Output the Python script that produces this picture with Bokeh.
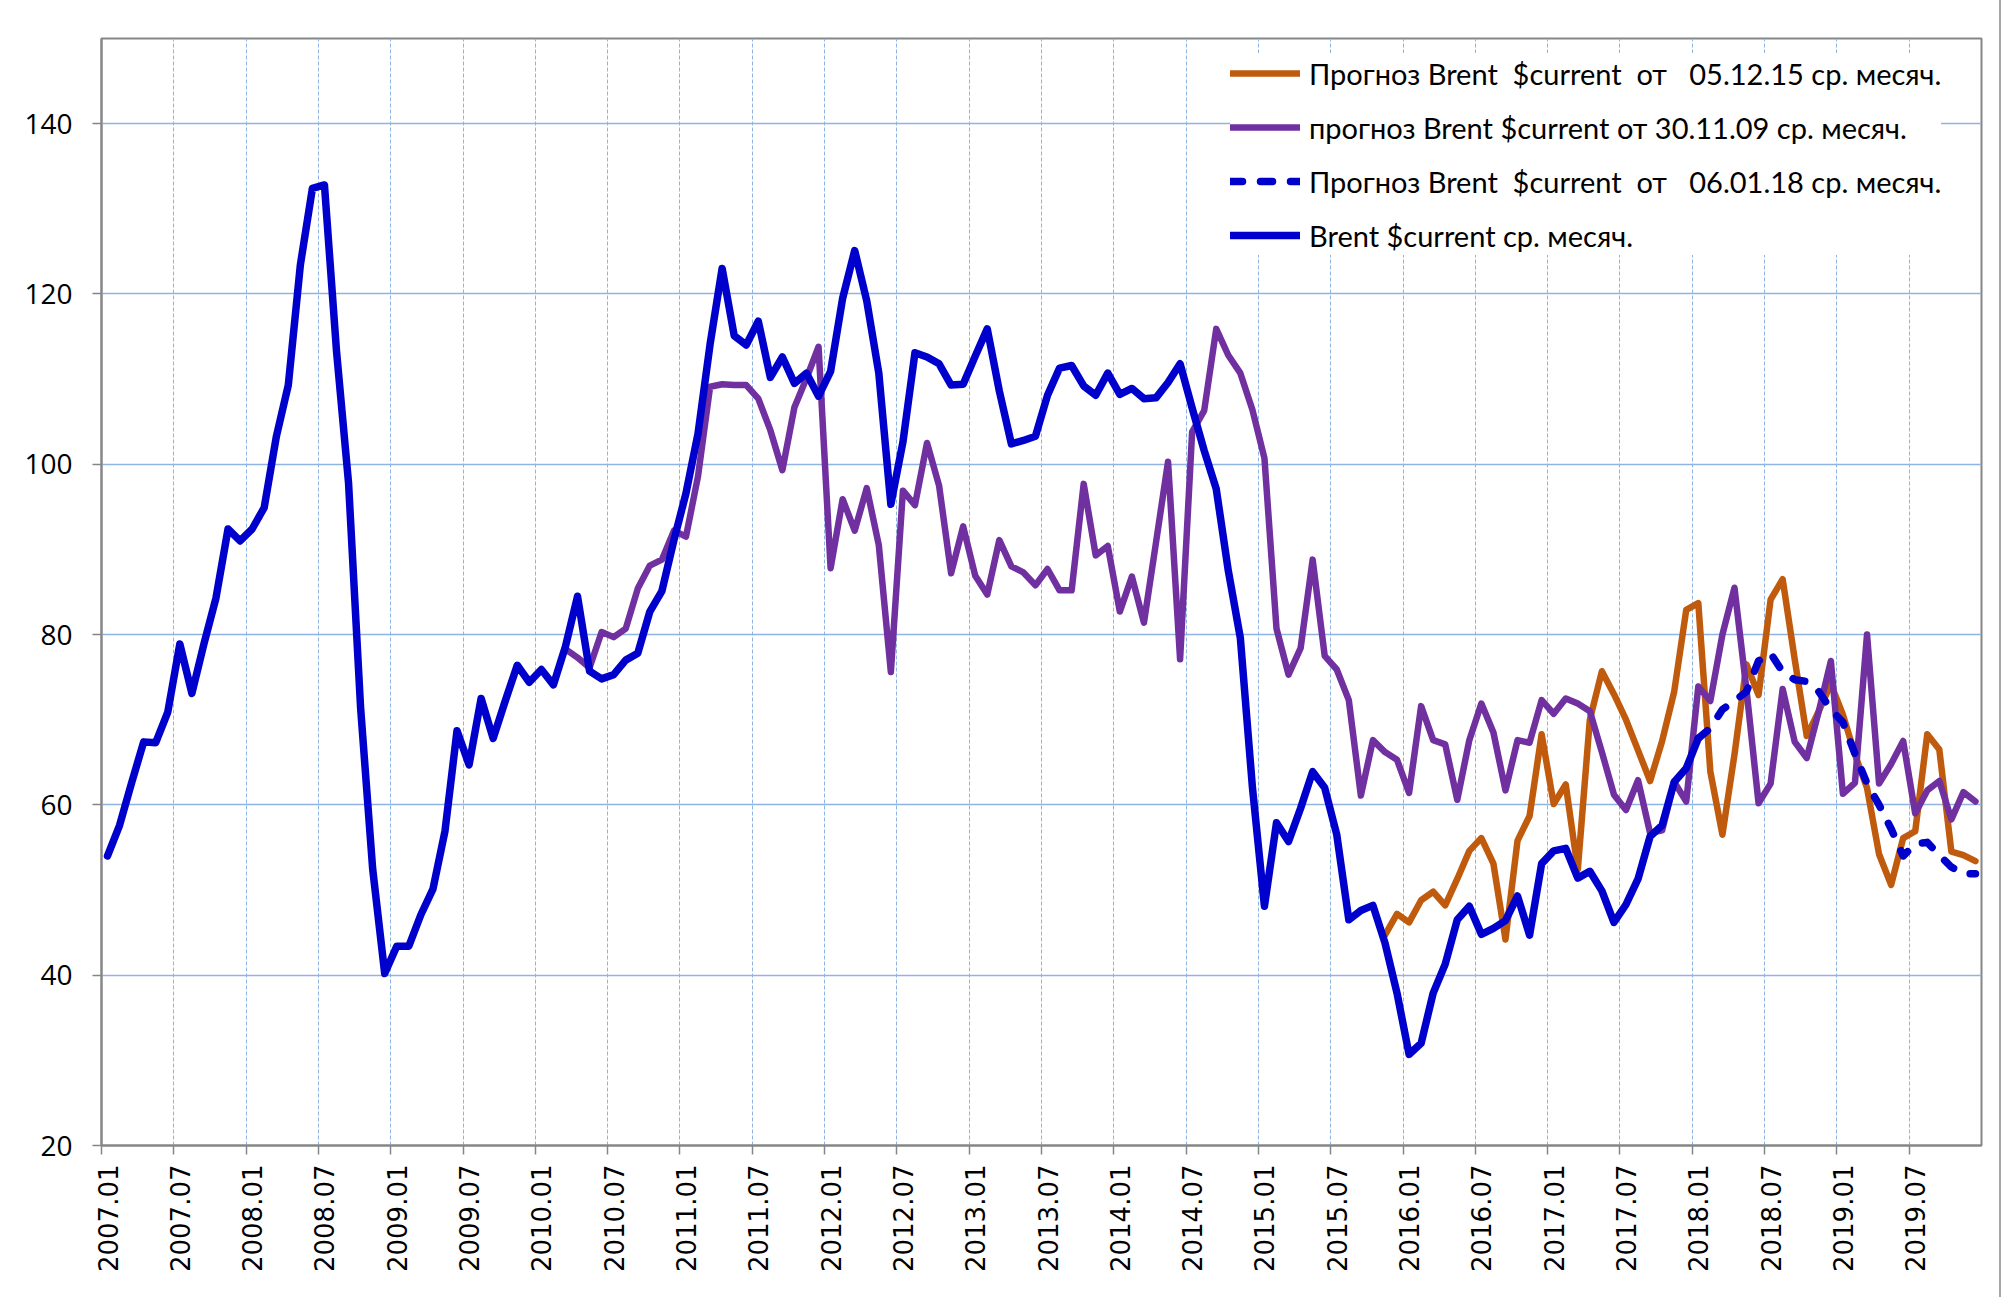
import math
from bokeh.plotting import figure
from bokeh.models import (Range1d, FixedTicker, LinearAxis, Legend, LegendItem,
                          ColumnDataSource, Grid)
from bokeh.embed import file_html
from bokeh.resources import INLINE

# ---------------- data ----------------
years = list(range(2007, 2020))
months = [f"{y}.{m:02d}" for y in years for m in range(1, 13)]   # categories 2007.01 .. 2019.12

tick_labels = ["2007.01", "2007.07", "2008.01", "2008.07", "2009.01", "2009.07",
               "2010.01", "2010.07", "2011.01", "2011.07", "2012.01", "2012.07",
               "2013.01", "2013.07", "2014.01", "2014.07", "2015.01", "2015.07",
               "2016.01", "2016.07", "2017.01", "2017.07", "2018.01", "2018.07",
               "2019.01", "2019.07"]
y_ticks = [20, 40, 60, 80, 100, 120, 140]

# Brent $current monthly average, from 2007.01
brent_start = "2007.01"
brent = [54.0, 57.6, 62.6, 67.4, 67.3, 70.9, 78.9, 73.1, 78.9, 84.3, 92.4, 91.0,
         92.4, 94.9, 103.2, 109.3, 123.4, 132.4, 132.8, 113.3, 97.8, 71.4, 52.5, 40.2,
         43.4, 43.4, 47.1, 50.1, 56.9, 68.7, 64.7, 72.5, 67.8, 72.2, 76.4, 74.4,
         75.9, 74.1, 78.6, 84.5, 75.7, 74.8, 75.3, 77.0, 77.8, 82.7, 85.1, 91.1,
         96.6, 103.6, 114.1, 123.0, 115.1, 114.0, 116.8, 110.2, 112.6, 109.5, 110.7, 108.0,
         110.9, 119.5, 125.1, 119.2, 110.7, 95.3, 102.6, 113.1, 112.6, 111.8, 109.3, 109.4,
         112.7, 115.9, 108.6, 102.4, 102.8, 103.3, 108.1, 111.3, 111.6, 109.2, 108.1, 110.7,
         108.2, 108.9, 107.7, 107.8, 109.6, 111.8, 106.6, 101.6, 97.1, 87.5, 79.6, 62.1,
         48.1, 57.9, 55.7, 59.6, 63.9, 62.0, 56.5, 46.5, 47.6, 48.2, 43.8, 37.9,
         30.7, 32.0, 37.9, 41.3, 46.5, 48.1, 44.8, 45.5, 46.4, 49.3, 44.7, 53.1,
         54.6, 54.9, 51.4, 52.2, 49.9, 46.2, 48.3, 51.3, 56.3, 57.6, 62.7, 64.3,
         67.8]

# forecast of 30.11.09, from 2010.03
f09_start = "2010.03"
f09 = [78.3, 77.3, 76.1, 80.3, 79.7, 80.7, 85.4, 88.1, 88.8, 92.2,
       91.5, 98.6, 109.1, 109.4, 109.3, 109.3, 107.7, 104.0, 99.3, 106.7, 110.1, 113.8,
       87.8, 95.9, 92.2, 97.2, 90.5, 75.6, 96.9, 95.2, 102.5, 97.5, 87.2, 92.7,
       86.9, 84.7, 91.1, 88.0, 87.3, 85.8, 87.7, 85.2, 85.2, 97.7, 89.3, 90.4,
       82.7, 86.8, 81.4, 90.8, 100.3, 77.1, 103.8, 106.3, 115.9, 112.8, 110.7, 106.4,
       100.7, 80.7, 75.3, 78.4, 88.8, 77.5, 75.9, 72.3, 61.1, 67.6, 66.2, 65.3,
       61.4, 71.6, 67.6, 67.1, 60.6, 67.6, 71.9, 68.5, 61.7, 67.6, 67.3, 72.3,
       70.7, 72.5, 71.9, 71.0, 66.2, 61.2, 59.4, 62.9, 56.7, 57.0, 62.7, 60.4,
       73.9, 72.2, 80.0, 85.5, 73.5, 60.2, 62.5, 73.6, 67.4, 65.5, 71.0, 76.9,
       61.3, 62.6, 80.0, 62.5, 64.8, 67.5, 59.0, 61.7, 62.8, 58.3, 61.5, 60.4]

# forecast of 05.12.15, from 2015.11
f15_start = "2015.11"
f15 = [44.7, 47.2,
       46.2, 48.8, 49.8, 48.2, 51.3, 54.6, 56.1, 53.1, 44.2, 55.8, 58.7, 68.3,
       60.1, 62.4, 52.4, 70.0, 75.7, 73.0, 70.0, 66.4, 62.8, 67.5, 73.3, 82.9,
       83.7, 63.9, 56.5, 65.9, 76.5, 72.9, 84.1, 86.5, 77.1, 68.1, 71.0, 74.2,
       70.6, 65.9, 62.0, 54.2, 50.6, 56.1, 56.9, 68.3, 66.5, 54.5, 54.1, 53.4]

# forecast of 06.01.18, from 2018.01
f18_start = "2018.01"
f18 = [67.8, 69.0, 71.2, 72.2, 73.3, 76.9, 77.8, 75.6, 74.7, 74.5, 73.3, 71.2,
       69.7, 66.0, 62.5, 60.0, 57.2, 54.0, 55.4, 55.6, 54.1, 52.7, 51.9, 51.9]

labels = {
    "f15": "Прогноз Brent\u00a0 $current\u00a0 от\u00a0\u00a0 05.12.15 ср. месяч.",
    "f09": "прогноз Brent $current от 30.11.09 ср. месяч.",
    "f18": "Прогноз Brent\u00a0 $current\u00a0 от\u00a0\u00a0 06.01.18 ср. месяч.",
    "brent": "Brent $current ср. месяч.",
}

# ---------------- helpers ----------------
def src(start, vals):
    i0 = months.index(start)
    return ColumnDataSource(dict(x=list(range(i0, i0 + len(vals))), y=vals))

n = len(months)
centers = [months.index(t) for t in tick_labels]
bounds = [c - 0.5 for c in centers]

AX = "#868686"
GRID = "#8EB4E3"

p = figure(width=1999, height=1297, output_backend="svg", toolbar_location=None,
           x_range=Range1d(-0.5, n - 0.5), y_range=Range1d(20, 150),
           x_axis_type=None, y_axis_type=None,
           min_border_left=101, min_border_right=18, min_border_top=38, min_border_bottom=152)
p.background_fill_color = "white"
p.border_fill_color = "white"
p.outline_line_color = AX
p.outline_line_width = 2

# grids
p.add_layout(Grid(dimension=1, ticker=FixedTicker(ticks=y_ticks[1:]),
                  grid_line_color=GRID, grid_line_width=1.5))
p.add_layout(Grid(dimension=0, ticker=FixedTicker(ticks=bounds[1:]),
                  grid_line_color=GRID, grid_line_width=1, grid_line_dash="4 2"))

# y axis
yax = LinearAxis(ticker=FixedTicker(ticks=y_ticks))
yax.axis_line_color = AX
yax.axis_line_width = 2
yax.major_tick_line_color = AX
yax.major_tick_line_width = 1.5
yax.major_tick_out = 9
yax.major_tick_in = 0
yax.minor_tick_line_color = None
yax.major_label_text_font = "Open Sans"
yax.major_label_text_font_size = "28px"
yax.major_label_text_color = "black"
yax.major_label_standoff = 20
p.add_layout(yax, "left")

# x axis: tick marks at category boundaries
xtick = LinearAxis(ticker=FixedTicker(ticks=bounds))
xtick.axis_line_color = AX
xtick.axis_line_width = 2
xtick.major_tick_line_color = AX
xtick.major_tick_line_width = 1.5
xtick.major_tick_out = 9
xtick.major_tick_in = 0
xtick.minor_tick_line_color = None
xtick.major_label_text_font_size = "0px"
xtick.major_label_text_color = None
xtick.major_label_standoff = 0
p.add_layout(xtick, "below")

# x axis: labels at category centres
xlab = LinearAxis(ticker=FixedTicker(ticks=centers),
                  major_label_overrides={c: t for c, t in zip(centers, tick_labels)})
xlab.axis_line_color = None
xlab.major_tick_line_color = None
xlab.major_tick_out = 0
xlab.major_tick_in = 0
xlab.minor_tick_line_color = None
xlab.major_label_orientation = math.pi / 2
xlab.major_label_text_font = "DejaVu Sans"
xlab.major_label_text_font_size = "26px"
xlab.major_label_text_color = "black"
xlab.major_label_standoff = 10
p.add_layout(xlab, "below")

# series (drawing order: orange, purple, dashed blue, blue)
common = dict(line_join="round", line_cap="round")
r15 = p.line("x", "y", source=src(f15_start, f15), line_color="#C05A0C", line_width=6.5, **common)
r09 = p.line("x", "y", source=src(f09_start, f09), line_color="#7030A0", line_width=6.5, **common)
r18 = p.line("x", "y", source=src(f18_start, f18), line_color="#0000CC", line_width=7.5,
             line_dash="12 18", **common)
rb = p.line("x", "y", source=src(brent_start, brent), line_color="#0000CC", line_width=7.5, **common)

legend = Legend(items=[LegendItem(label=labels["f15"], renderers=[r15]),
                       LegendItem(label=labels["f09"], renderers=[r09]),
                       LegendItem(label=labels["f18"], renderers=[r18]),
                       LegendItem(label=labels["brent"], renderers=[rb])],
                location=(1129, 890))
legend.background_fill_color = "white"
legend.background_fill_alpha = 1.0
legend.border_line_color = None
legend.label_text_font = "Lato"
legend.label_text_font_size = "29px"
legend.label_text_color = "black"
legend.glyph_width = 70
legend.glyph_height = 40
legend.label_height = 40
legend.label_standoff = 9
legend.spacing = 14
legend.padding = 12
legend.margin = 0
p.add_layout(legend)

p.styles = {"outline": "2px solid #a6a6a6"}

open("out.html", "w").write(file_html(p, INLINE))
